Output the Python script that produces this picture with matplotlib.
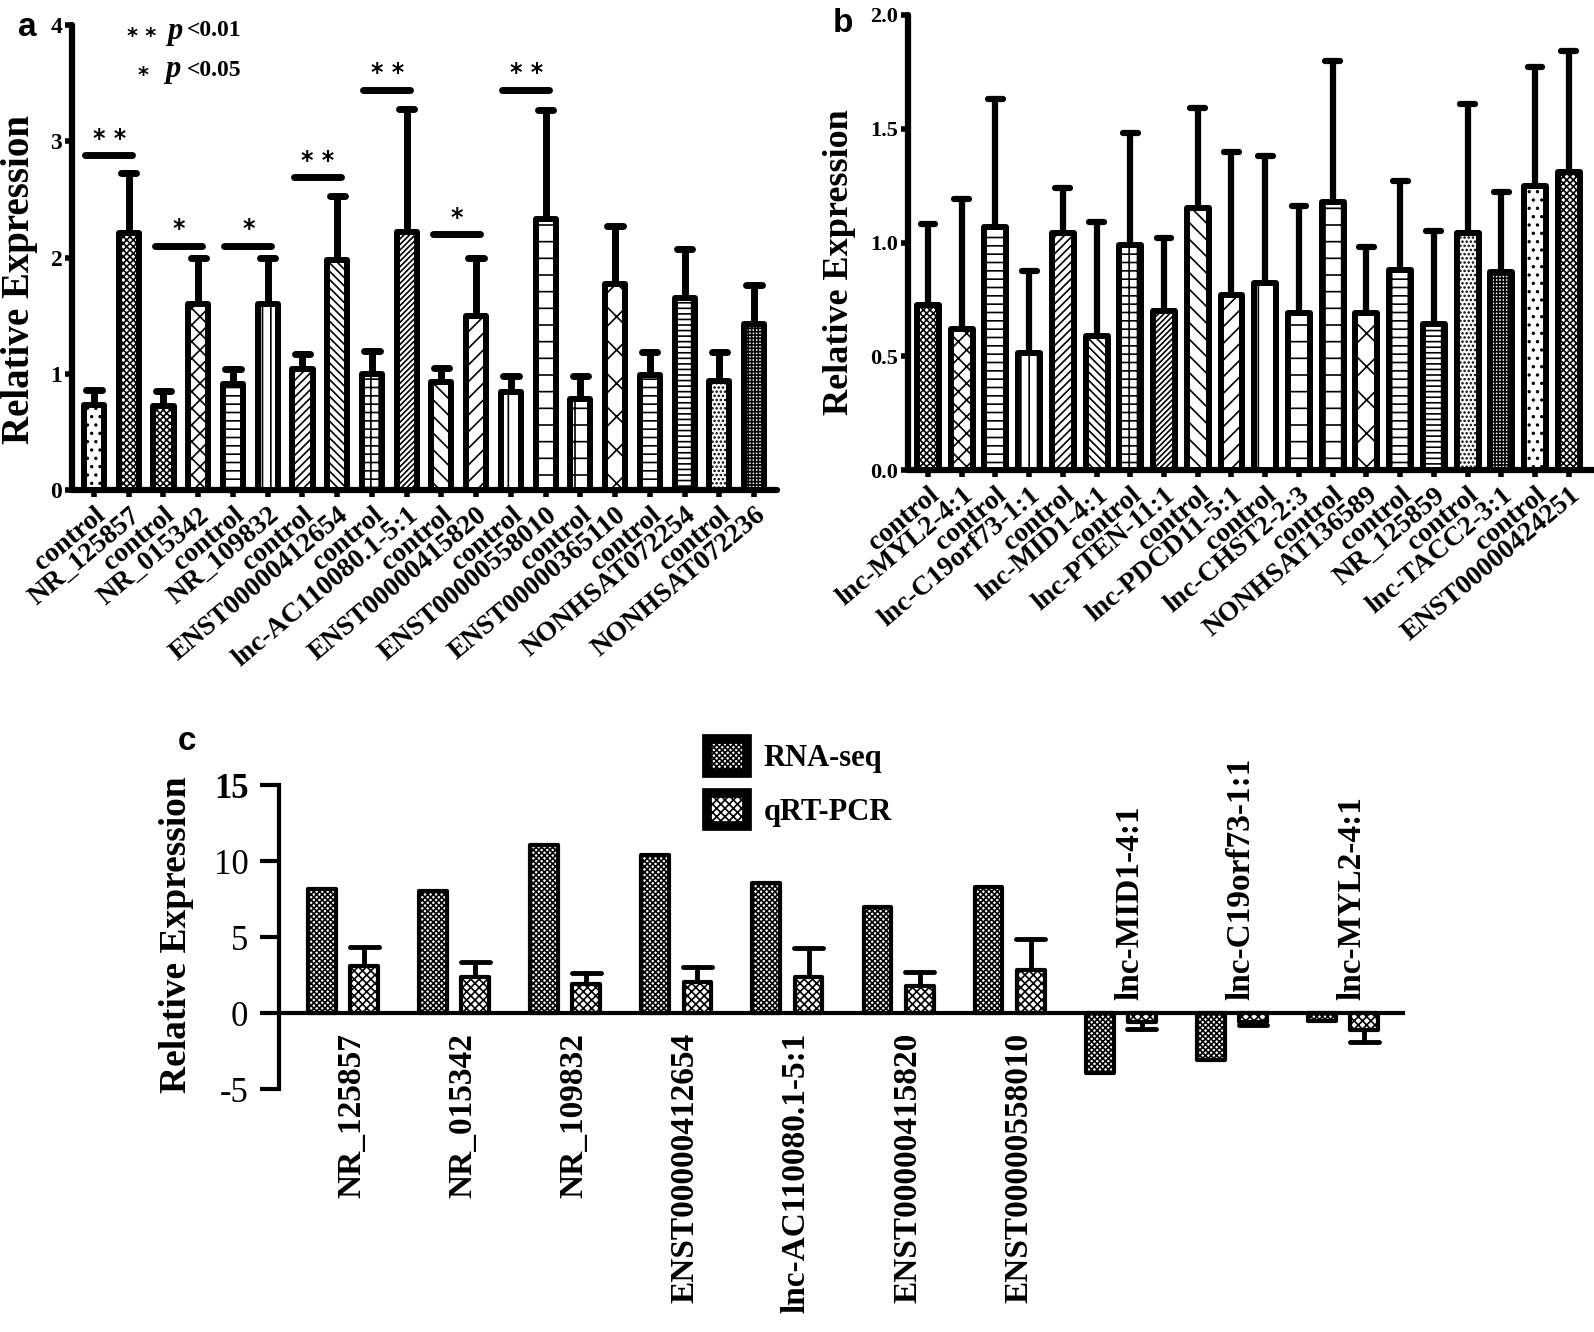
import numpy as np
import matplotlib
matplotlib.use('Agg')
import matplotlib.pyplot as plt
from matplotlib.patches import Patch

# ---------------- dados ----------------
# painel a
a_rotulos = ['control', 'NR_125857', 'control', 'NR_015342', 'control', 'NR_109832',
             'control', 'ENST00000412654', 'control', 'lnc-AC110080.1-5:1',
             'control', 'ENST00000415820', 'control', 'ENST00000558010',
             'control', 'ENST00000365110', 'control', 'NONHSAT072254',
             'control', 'NONHSAT072236']
a_media = [0.73, 2.21, 0.72, 1.60, 0.91, 1.60, 1.04, 1.98, 1.00, 2.22,
           0.93, 1.50, 0.84, 2.33, 0.78, 1.77, 0.99, 1.65, 0.94, 1.43]
a_dp = [0.13, 0.52, 0.13, 0.40, 0.13, 0.40, 0.13, 0.55, 0.20, 1.06,
        0.12, 0.50, 0.14, 0.94, 0.20, 0.50, 0.20, 0.42, 0.25, 0.33]
# (barra i, barra j, altura da linha, marca)
a_sig = [(0, 1, 2.88, '* *'), (2, 3, 2.10, '*'), (4, 5, 2.10, '*'),
         (6, 7, 2.69, '* *'), (8, 9, 3.44, '* *'), (10, 11, 2.20, '*'),
         (12, 13, 3.44, '* *')]

# painel b
b_rotulos = ['control', 'lnc-MYL2-4:1', 'control', 'lnc-C19orf73-1:1', 'control',
             'lnc-MID1-4:1', 'control', 'lnc-PTEN-11:1', 'control', 'lnc-PDCD11-5:1',
             'control', 'lnc-CHST2-2:3', 'control', 'NONHSAT136589', 'control',
             'NR_125859', 'control', 'lnc-TACC2-3:1', 'control', 'ENST00000424251']
b_media = [0.725, 0.62, 1.07, 0.515, 1.04, 0.59, 0.99, 0.70, 1.15, 0.77,
           0.82, 0.69, 1.18, 0.69, 0.88, 0.64, 1.04, 0.87, 1.25, 1.31]
b_dp = [0.355, 0.57, 0.56, 0.36, 0.20, 0.50, 0.49, 0.32, 0.44, 0.63,
        0.56, 0.47, 0.62, 0.29, 0.39, 0.41, 0.57, 0.35, 0.52, 0.53]

# painel c
c_rotulos = ['NR_125857', 'NR_015342', 'NR_109832', 'ENST00000412654',
             'lnc-AC110080.1-5:1', 'ENST00000415820', 'ENST00000558010',
             'lnc-MID1-4:1', 'lnc-C19orf73-1:1', 'lnc-MYL2-4:1']
c_rnaseq = [8.16, 8.03, 11.05, 10.39, 8.57, 7.0, 8.3, -3.95, -3.07, -0.5]
c_qrt = [3.1, 2.35, 1.9, 2.05, 2.35, 1.75, 2.85, -0.6, -0.6, -1.1]
c_qrt_dp = [1.25, 1.0, 0.75, 0.95, 1.95, 0.95, 2.05, 0.45, 0.2, 0.8]
c_series = ['RNA-seq', 'qRT-PCR']

# padrões de preenchimento
a_hach = ['..', 'xxxxx', 'xxxxx', 'xx', '--', '||', '////', '\\\\\\\\', '++', '//////',
          '\\\\', '//', '|', '-', '+', 'x', '+-', '+--', '....', '+++++']
b_hach = ['xxxxx', 'xx', '--', '||', '////', '\\\\\\\\', '++', '//////', '\\\\', '//',
          '|', '-', '+', 'x', '+-', '+--', '....', '+++++', '..', 'xxxxx']
c_hach = ['xxxxxx', 'xxxx']

W, H = 1594, 1332
plt.rcParams['font.family'] = ['Liberation Serif', 'DejaVu Serif']
plt.rcParams['font.weight'] = 'bold'
plt.rcParams['hatch.linewidth'] = 1.2

fig = plt.figure(figsize=(W / 100, H / 100), dpi=100)


def eixo(esq, topo, dir, base):
    # posição em pixels da figura
    return fig.add_axes([esq / W, 1 - base / H, (dir - esq) / W, (base - topo) / H])


def barras(ax, x, media, dp, hach, larg, lw_borda, lw_erro, meia_cap):
    media = np.asarray(media)
    dp = np.asarray(dp)
    topo = media + np.sign(media) * dp
    ax.vlines(x, media, topo, colors='k', lw=lw_erro, capstyle='round', zorder=2)
    ax.hlines(topo, x - meia_cap, x + meia_cap, colors='k', lw=lw_erro,
              capstyle='round', zorder=2)
    bb = ax.bar(x, media, width=larg, color='white', edgecolor='black',
                linewidth=lw_borda, joinstyle='round', zorder=3)
    for b, h in zip(bb, hach):
        b.set_hatch(h)
    return bb


def estilo_ab(ax, lw):
    for s in ['top', 'right']:
        ax.spines[s].set_visible(False)
    for s in ['left', 'bottom']:
        ax.spines[s].set_linewidth(lw)
        ax.spines[s].set_capstyle('round')
    ax.tick_params(axis='both', direction='out', length=5, width=4, color='k')


# ---------------- painel a ----------------
ax = eixo(72, 25, 777, 490)
xa = np.arange(len(a_media))
barras(ax, xa, a_media, a_dp, a_hach, 0.58, 4.3, 5, 0.22)
for i, j, y, m in a_sig:
    ax.plot([i - 0.25, j + 0.1], [y, y], color='k', lw=5, solid_capstyle='round', zorder=4)
    ax.text((i + j) / 2 - 0.05, y + 0.04, m, ha='center', va='bottom', fontsize=17,
            family='DejaVu Sans', weight='bold')
ax.set_xlim(-0.633, 19.66)
ax.set_ylim(0, 4)
ax.set_yticks([0, 1, 2, 3, 4])
ax.set_yticklabels(['0', '1', '2', '3', '4'], fontsize=17)
ax.set_xticks(xa)
ax.set_xticklabels(a_rotulos, rotation=40, ha='right', va='top', rotation_mode='anchor',
                   fontsize=20)
estilo_ab(ax, 4.5)
ax.tick_params(axis='y', pad=2)
ax.tick_params(axis='x', pad=4)

fig.text(20 / W, 1 - 280 / H, 'Relative Expression', rotation=90, ha='center',
         va='center', fontsize=28)
fig.text(27 / W, 1 - 28 / H, 'a', family='Liberation Sans', weight='bold', fontsize=24,
         ha='center', va='center')
fig.text(142 / W, 1 - 37 / H, '* *', family='DejaVu Sans', fontsize=15, ha='center', va='center')
fig.text(167 / W, 1 - 31 / H, 'p', style='italic', fontsize=22, va='center')
fig.text(187 / W, 1 - 31 / H, '<0.01', fontsize=17, va='center')
fig.text(143 / W, 1 - 76 / H, '*', family='DejaVu Sans', fontsize=15, ha='center', va='center')
fig.text(165 / W, 1 - 70 / H, 'p', style='italic', fontsize=22, va='center')
fig.text(187 / W, 1 - 70 / H, '<0.05', fontsize=17, va='center')

# ---------------- painel b ----------------
ax = eixo(908, 15, 1594, 470)
xb = np.arange(len(b_media))
barras(ax, xb, b_media, b_dp, b_hach, 0.65, 4.3, 4.5, 0.22)
ax.set_xlim(-0.593, 19.75)
ax.set_ylim(0, 2.0)
ax.set_yticks([0, 0.5, 1.0, 1.5, 2.0])
ax.set_yticklabels(['0.0', '0.5', '1.0', '1.5', '2.0'], fontsize=16)
ax.set_xticks(xb)
ax.set_xticklabels(b_rotulos, rotation=40, ha='right', va='top', rotation_mode='anchor',
                   fontsize=20)
estilo_ab(ax, 4.5)
ax.tick_params(axis='y', pad=2)
ax.tick_params(axis='x', pad=4)

fig.text(839 / W, 1 - 262 / H, 'Relative Expression', rotation=90, ha='center',
         va='center', fontsize=26)
fig.text(843 / W, 1 - 24 / H, 'b', family='Liberation Sans', weight='bold', fontsize=24,
         ha='center', va='center')

# ---------------- painel c ----------------
ax = eixo(279, 785, 1403, 1089)
xc = np.arange(len(c_rotulos))
barras(ax, xc - 0.19, c_rnaseq, np.zeros(len(c_rnaseq)), [c_hach[0]] * len(xc),
       0.25, 3, 3, 0.0)
barras(ax, xc + 0.19, c_qrt, c_qrt_dp, [c_hach[1]] * len(xc), 0.25, 3, 3.5, 0.13)
ax.set_xlim(-0.576, 9.54)
ax.set_ylim(-5, 15)
for s in ['top', 'right']:
    ax.spines[s].set_visible(False)
ax.spines['bottom'].set_position(('data', 0))
ax.spines['bottom'].set_linewidth(3)
ax.spines['left'].set_linewidth(3)
ax.set_xticks([])
ax.set_yticks([-5, 0, 5, 10, 15])
ax.set_yticklabels(['-5', '0', '5', '10', '15'], fontsize=25, weight='normal')
ax.get_yticklabels()[-1].set_weight('bold')
ax.tick_params(axis='y', direction='out', length=14, width=3, pad=8)
for g, lbl in enumerate(c_rotulos):
    if c_rnaseq[g] >= 0:
        ax.text(g + 0.08, -1.3, lbl, rotation=90, ha='center', va='top', fontsize=24)
    else:
        ax.text(g + 0.08, 0.85, lbl, rotation=90, ha='center', va='bottom', fontsize=24)

alcas = [Patch(facecolor='white', edgecolor='black', hatch=h, linewidth=7) for h in c_hach]
ax.legend(alcas, c_series, loc='upper left', bbox_to_anchor=(692 / W, 1 - 724 / H),
          bbox_transform=fig.transFigure, frameon=False, fontsize=22, borderpad=0,
          handlelength=1.3, handleheight=1.3, handletextpad=0.55, labelspacing=0.65)

fig.text(177 / W, 1 - 935 / H, 'Relative Expression', rotation=90, ha='center',
         va='center', fontsize=27)
fig.text(187 / W, 1 - 741 / H, 'c', family='Liberation Sans', weight='bold', fontsize=24,
         ha='center', va='center')

fig.savefig('out.png', dpi=100)
